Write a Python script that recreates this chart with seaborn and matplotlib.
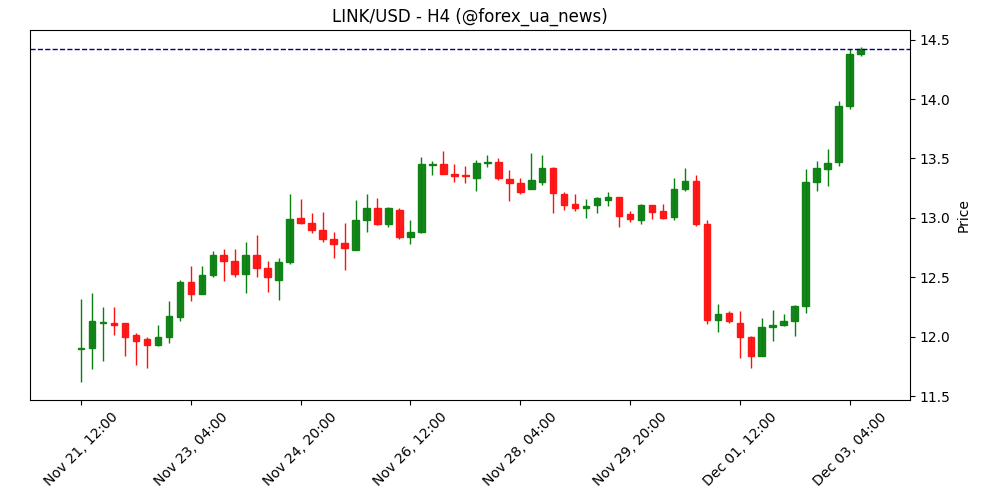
import matplotlib
matplotlib.use("Agg")
import matplotlib.pyplot as plt
import seaborn as sns
import pandas as pd
import numpy as np

opens = [11.90, 11.91, 12.12, 12.12, 12.12, 12.02, 11.98, 11.93, 12.00, 12.17,
         12.46, 12.36, 12.52, 12.69, 12.64, 12.53, 12.69, 12.58, 12.48, 12.63,
         13.00, 12.96, 12.90, 12.82, 12.79, 12.73, 12.98, 13.08, 12.95, 13.07,
         12.84, 12.88, 13.445, 13.45, 13.37, 13.36, 13.34, 13.465, 13.47, 13.33,
         13.29, 13.24, 13.30, 13.42, 13.20, 13.12, 13.08, 13.11, 13.15, 13.18,
         13.03, 12.98, 13.11, 13.06, 13.01, 13.24, 13.31, 12.95, 12.14, 12.20,
         12.12, 12.00, 11.84, 12.08, 12.10, 12.13, 12.26, 13.30, 13.41, 13.47,
         13.94, 14.38]
closes = [11.91, 12.13, 12.125, 12.10, 12.00, 11.97, 11.93, 12.00, 12.18, 12.46,
          12.36, 12.52, 12.69, 12.64, 12.53, 12.69, 12.58, 12.50, 12.63, 12.99,
          12.96, 12.90, 12.82, 12.78, 12.75, 12.98, 13.08, 12.95, 13.08, 12.84,
          12.88, 13.45, 13.45, 13.37, 13.35, 13.35, 13.46, 13.47, 13.34, 13.29,
          13.22, 13.32, 13.42, 13.21, 13.11, 13.08, 13.10, 13.17, 13.18, 13.02,
          12.99, 13.11, 13.05, 13.00, 13.24, 13.31, 12.95, 12.14, 12.19, 12.13,
          12.00, 11.84, 12.08, 12.10, 12.13, 12.26, 13.30, 13.42, 13.46, 13.94,
          14.38, 14.42]
highs = [12.32, 12.37, 12.25, 12.25, 12.12, 12.03, 12.00, 12.10, 12.30, 12.48,
         12.60, 12.60, 12.72, 12.74, 12.74, 12.80, 12.86, 12.64, 12.66, 13.20,
         13.16, 13.04, 13.05, 12.88, 12.96, 13.15, 13.20, 13.17, 13.09, 13.08,
         12.98, 13.51, 13.48, 13.56, 13.45, 13.44, 13.49, 13.53, 13.50, 13.40,
         13.34, 13.55, 13.53, 13.43, 13.22, 13.20, 13.16, 13.18, 13.22, 13.18,
         13.06, 13.12, 13.11, 13.12, 13.34, 13.42, 13.36, 12.98, 12.28, 12.22,
         12.22, 12.01, 12.16, 12.23, 12.19, 12.27, 13.41, 13.48, 13.58, 13.98,
         14.42, 14.44]
lows = [11.62, 11.73, 11.80, 12.02, 11.84, 11.76, 11.74, 11.92, 11.95, 12.13,
        12.30, 12.36, 12.50, 12.47, 12.50, 12.37, 12.50, 12.38, 12.31, 12.61,
        12.95, 12.87, 12.80, 12.66, 12.56, 12.73, 12.88, 12.94, 12.92, 12.82,
        12.78, 12.87, 13.36, 13.37, 13.30, 13.29, 13.23, 13.43, 13.32, 13.14,
        13.20, 13.24, 13.28, 13.04, 13.07, 13.06, 13.00, 13.04, 13.10, 12.92,
        12.97, 12.95, 12.99, 12.99, 12.98, 13.23, 12.93, 12.11, 12.04, 12.12,
        11.82, 11.74, 11.84, 11.97, 12.09, 12.01, 12.20, 13.23, 13.27, 13.44,
        13.92, 14.36]
tick_labels = ["Nov 21, 12:00", "Nov 23, 04:00", "Nov 24, 20:00", "Nov 26, 12:00",
               "Nov 28, 04:00", "Nov 29, 20:00", "Dec 01, 12:00", "Dec 03, 04:00"]
last_price = 14.42

df = pd.DataFrame({"open": opens, "close": closes, "high": highs, "low": lows})
df["idx"] = np.arange(len(df))
df["up"] = df["close"] >= df["open"]

sns.set_theme(style="ticks", context="notebook",
              rc={"font.size": 10, "axes.titlesize": 12, "axes.labelsize": 10,
                  "xtick.labelsize": 10, "ytick.labelsize": 10,
                  "axes.edgecolor": "black", "xtick.color": "black",
                  "ytick.color": "black", "axes.linewidth": 0.8,
                  "text.color": "black", "axes.labelcolor": "black",
                  "xtick.major.size": 3.5, "ytick.major.size": 3.5,
                  "xtick.major.width": 0.8, "ytick.major.width": 0.8})
plt.rcParams["font.family"] = ["DejaVu Sans"]

fig, ax = plt.subplots(figsize=(10, 5), dpi=100)

green, red = "#0a8010", "#ff1010"
colors = np.where(df["up"], green, red)

# wicks then bodies
ax.vlines(df["idx"], df["low"], df["high"], colors=colors, linewidth=1)
body = (df["close"] - df["open"]).abs().clip(lower=0.008)
bottom = df[["open", "close"]].min(axis=1)
ax.bar(df["idx"], body, bottom=bottom, width=0.6, color=colors,
       edgecolor=colors, linewidth=1, alpha=0.95)

ax.axhline(last_price, color="darkblue", linestyle="--", linewidth=1)

ax.set_xticks(np.arange(0, 71, 10))
ax.set_xticklabels(tick_labels, rotation=45, ha="center")
ax.set_xlim(-4.65, 75.5)
ax.set_ylim(11.47, 14.58)
ax.yaxis.tick_right()
ax.yaxis.set_label_position("right")
ax.set_ylabel("Price")
ax.set_title("LINK/USD - H4 (@forex_ua_news)")

fig.subplots_adjust(left=0.03, right=0.91, top=0.94, bottom=0.2)
fig.savefig("out.png")
